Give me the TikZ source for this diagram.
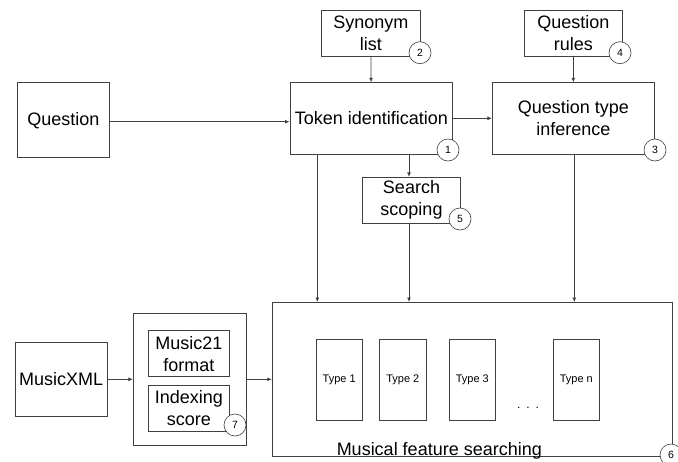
\documentclass[tikz,border=0pt]{standalone}
\usepackage{fontspec}
\setmainfont{Liberation Sans}
\usetikzlibrary{arrows.meta}
\definecolor{linegray}{gray}{0.25}
\tikzset{
  box/.style={draw=linegray, line width=0.8pt, fill=white, align=center, inner sep=0pt,
    font=\fontsize{18}{22}\selectfont},
  typebox/.style={draw=linegray, line width=0.8pt, minimum width=46.3pt, minimum height=80.7pt,
    inner sep=0pt, font=\fontsize{11}{13}\selectfont},
  num/.style={draw=linegray, line width=0.6pt, fill=white, circle, minimum size=22pt, inner sep=0pt,
    font=\fontsize{10.5}{12}\selectfont},
  conn/.style={draw=linegray, line width=0.8pt, -{Latex[length=4.5pt,width=4pt]}},
}
\begin{document}
\begin{tikzpicture}[x=1pt,y=-1pt]
\useasboundingbox (0,0) rectangle (678,461);
\begin{scope}
\clip (0,0) rectangle (678,461);

% upper pipeline
\node[box, minimum width=92pt, minimum height=75pt] (question) at (63.3,120.2) {Question};
\node[box, minimum width=162.7pt, minimum height=71.6pt] (token) at (371.3,118.5) {Token identification};
\node[box, minimum width=162pt, minimum height=71.6pt] (qti) at (573.3,118.5) {Question type\\inference};
\node[box, minimum width=98.3pt, minimum height=46pt] (synonym) at (370.8,33) {Synonym\\list};
\node[box, minimum width=98pt, minimum height=46pt] (rules) at (573.3,33) {Question\\rules};
\node[box, minimum width=98.4pt, minimum height=46pt] (search) at (411.5,200.3) {Search\\scoping};

% lower pipeline
\node[box, minimum width=92.3pt, minimum height=74.4pt] (musicxml) at (61.2,379.5) {MusicXML};
\node[box, minimum width=113.4pt, minimum height=131.7pt] (prep) at (190,379.2) {};
\node[box, minimum width=81pt, minimum height=46pt] (music21) at (188.8,353.7) {Music21\\format};
\node[box, minimum width=81pt, minimum height=45.6pt] (indexing) at (188.8,408.5) {Indexing\\score};
\node[box, minimum width=400pt, minimum height=154.4pt] (musical) at (472.2,379.6) {};
\node[font=\fontsize{18}{22}\selectfont, anchor=base] (mfs) at (439.3,455) {Musical feature searching};

\node[typebox] (t1) at (339.2,379.7) {Type 1};
\node[typebox] (t2) at (402.8,379.7) {Type 2};
\node[typebox] (t3) at (472.3,379.7) {Type 3};
\node[typebox] (tn) at (576.3,379.7) {Type n};
\node[font=\fontsize{12}{14}\selectfont] (dots) at (528,408) {.\hspace{6pt}.\hspace{6pt}.};

% numbered markers
\node[num] (n1) at (448,150) {1};
\node[num] (n2) at (420,52.7) {2};
\node[num] (n3) at (655,150) {3};
\node[num] (n4) at (620,52.7) {4};
\node[num] (n5) at (460,219) {5};
\node[num] (n6) at (671,455) {6};
\node[num] (n7) at (235,425) {7};

% connectors
\coordinate (qy) at (0,121.7);
\draw[conn] (question.east |- qy) -- (token.west |- qy);
\draw[conn] (synonym) -- (token);
\draw[conn] (token.east |- 0,118.3) -- (qti.west |- 0,118.3);
\draw[conn] (rules) -- (qti);
\coordinate (sx) at (409,0);
\draw[conn] (token.south -| sx) -- (search.north -| sx);
\coordinate (tx) at (317.3,0);
\draw[conn] (token.south -| tx) -- (musical.north -| tx);
\draw[conn] (search.south -| sx) -- (musical.north -| sx);
\coordinate (qx) at (574.3,0);
\draw[conn] (qti.south -| qx) -- (musical.north -| qx);
\coordinate (my) at (0,379.3);
\draw[conn] (musicxml.east |- my) -- (prep.west |- my);
\draw[conn] (prep.east |- my) -- (musical.west |- my);
\end{scope}
\end{tikzpicture}
\end{document}
